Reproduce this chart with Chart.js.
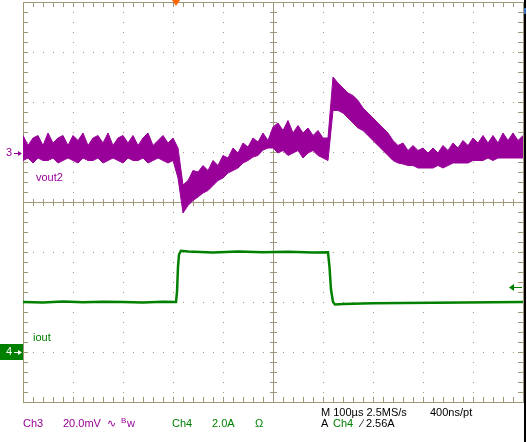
<!DOCTYPE html>
<html><head><meta charset="utf-8">
<script src="https://cdn.jsdelivr.net/npm/chart.js@4.4.1/dist/chart.umd.min.js"></script>
<style>body{margin:0;background:#fff}#w{position:relative;width:527px;height:442px}canvas{display:block}</style>
</head><body><div id="w"><canvas id="c" width="527" height="442"></canvas></div>
<script>
// time in microseconds from left edge of screen (100 us/div)
const timeUs = [];
for (let t = 0; t <= 1000; t += 10) timeUs.push(t);
// vout2 ripple envelope, mV relative to Ch3 ground marker (20 mV/div)
const voutUpper = [7,3,6,7,3,8,4,6,7,3,7,5,8,3,6,7,4,8,3,6,7,4,7,3,6,8,3,5,7,4,6,
  2,-12.8,-11,-7,-7.6,-5,-7,-3,-5,-1,-2,2,0,4,2.4,6,4.4,8,5,10.4,
  12,9,13,8,11,8,10,7,9,6,6,
  30.4,28,26,24,23,21,18,16,14,12,10,8,5,3,4,1,3,1,2,
  0,2,0,3,1,4,2,5,3,6,4,7,4,7,4,8,5,8,5,7];
const voutLower = [-3,-2,-4,-2,-3,-3,-2,-4,-3,-2,-3,-4,-2,-3,-3,-2,-4,-3,-2,-3,-4,-2,-3,-3,-2,-4,-3,-2,-3,-4,-3,
  -10,-24,-21,-19,-17.6,-16,-15,-13,-11,-10,-8,-7,-6,-4,-3,-1.6,-1,1.2,2,2,
  0,1,-1,0,1,-2,0,1,-1,-2,-3,
  17,17,16,14,12,10,9,7,5,3,1,-1,-3,-4,-4.4,-5,-5,-6,-6,
  -6,-6,-5,-6,-5,-4,-4,-4,-4,-3,-3,-3,-2,-3,-2,-2,-2,-2,-2,-2];
// iout, amps relative to Ch4 ground marker (2 A/div)
const ioutTime = [0,40,80,120,160,200,240,280,306,308,310,312,316,330,380,430,480,530,580,610,613,616,620,624,640,700,760,820,880,940,1000];
const ioutAmps = [2.0,1.98,2.02,1.99,2.01,2.0,1.98,2.01,2.0,2.4,3.4,3.9,4.05,4.02,3.98,4.02,3.99,4.01,3.98,3.99,3.4,2.5,2.0,1.9,1.92,1.95,1.96,1.97,1.98,1.99,2.0];

const PURPLE = '#990099', GREEN = '#008000', GRID = '#a0967a';
const up = timeUs.map((t,i)=>({x:t,y:voutUpper[i]}));
const lo = timeUs.map((t,i)=>({x:t,y:voutLower[i]}));
const io = ioutTime.map((t,i)=>({x:t,y:ioutAmps[i]}));

const scopeGrid = {
  id:'scopeGrid',
  beforeDatasetsDraw(ch){
    const {ctx, chartArea:a} = ch;
    const L=a.left,R=a.right,T=a.top,B=a.bottom,dx=(R-L)/10,dy=(B-T)/8;
    const cx=L+5*dx, cy=T+4*dy;
    ctx.save(); ctx.fillStyle=GRID; ctx.strokeStyle=GRID; ctx.lineWidth=1;
    for(let i=1;i<10;i++){ if(i===5) continue; const x=Math.round(L+i*dx);
      for(let y=T;y<=B;y+=dy/5) ctx.fillRect(x,Math.round(y),1,1); }
    for(let j=1;j<8;j++){ if(j===4) continue; const y=Math.round(T+j*dy);
      for(let x=L;x<=R;x+=dx/5) ctx.fillRect(Math.round(x),y,1,1); }
    ctx.beginPath();
    ctx.moveTo(cx+0.5,T); ctx.lineTo(cx+0.5,B);
    ctx.moveTo(L,cy+0.5); ctx.lineTo(R,cy+0.5);
    for(let x=L;x<=R+0.1;x+=dx/5){ const xx=Math.round(x)+0.5;
      ctx.moveTo(xx,cy-3); ctx.lineTo(xx,cy+4);
      ctx.moveTo(xx,T); ctx.lineTo(xx,T+5); ctx.moveTo(xx,B); ctx.lineTo(xx,B-5); }
    for(let y=T;y<=B+0.1;y+=dy/5){ const yy=Math.round(y)+0.5;
      ctx.moveTo(cx-3,yy); ctx.lineTo(cx+4,yy);
      ctx.moveTo(L,yy); ctx.lineTo(L+5,yy); ctx.moveTo(R,yy); ctx.lineTo(R-5,yy); }
    ctx.stroke();
    ctx.strokeRect(L+0.5,T+0.5,R-L,B-T);
    ctx.restore();
  },
  afterDraw(ch){
    const {ctx, chartArea:a} = ch;
    ctx.save();
    ctx.font='11px "Liberation Sans", Arial, sans-serif'; ctx.textBaseline='middle';
    const y3=ch.scales.y3.getPixelForValue(0), y4=ch.scales.y4.getPixelForValue(0);
    ctx.fillStyle=PURPLE; ctx.fillText('3',6,y3); ctx.fillRect(14,y3,7,1);
    ctx.beginPath(); ctx.moveTo(22,y3+0.5); ctx.lineTo(18,y3-2); ctx.lineTo(18,y3+3); ctx.fill();
    ctx.fillText('vout2',36,y3+25);
    ctx.fillStyle=GREEN; ctx.fillRect(0,y4-8,23,16);
    ctx.fillText('iout',33,y4-14);
    ctx.fillStyle='#fff'; ctx.fillText('4',6,y4); ctx.fillRect(14,y4,7,1);
    ctx.beginPath(); ctx.moveTo(22,y4+0.5); ctx.lineTo(18,y4-2); ctx.lineTo(18,y4+3); ctx.fill();
    // trigger level arrow
    const yt=ch.scales.y4.getPixelForValue(2.6);
    ctx.fillStyle=GREEN; ctx.fillRect(512,yt,10,1);
    ctx.beginPath(); ctx.moveTo(509,yt+0.5); ctx.lineTo(514,yt-3); ctx.lineTo(514,yt+4); ctx.fill();
    // trigger position marker
    const xt=ch.scales.x.getPixelForValue(306);
    ctx.fillStyle='#ff6600'; ctx.beginPath(); ctx.moveTo(xt-4,0); ctx.lineTo(xt+4,0); ctx.lineTo(xt,6); ctx.fill();
    // right edge
    ctx.fillStyle='#000'; ctx.fillRect(524,0,2,442); ctx.fillStyle='#3a6fc0'; ctx.fillRect(524,8,2,6);
    // readouts
    ctx.fillStyle='#000';
    ctx.fillText('M 100\u00b5s 2.5MS/s',321,413); ctx.fillText('400ns/pt',430,413);
    ctx.fillText('A',321,424);
    ctx.fillText('\u2215 2.56A',361,424);
    ctx.fillStyle=PURPLE; ctx.fillText('Ch3',23,424); ctx.fillText('20.0mV',63,424); ctx.fillText('\u223f',107,424);
    ctx.font='8px "Liberation Sans", Arial, sans-serif'; ctx.fillText('B',121,421);
    ctx.font='11px "Liberation Sans", Arial, sans-serif'; ctx.fillText('w',127,424);
    ctx.fillStyle=GREEN; ctx.fillText('Ch4',172,424); ctx.fillText('2.0A',212,424); ctx.fillText('\u03a9',255,424); ctx.fillText('Ch4',333,424);
    ctx.restore();
  }
};

new Chart(document.getElementById('c'), {
  type:'line',
  data:{datasets:[
    {data:up,yAxisID:'y3',borderColor:PURPLE,borderWidth:1,pointRadius:0,tension:0,fill:false},
    {data:lo,yAxisID:'y3',borderColor:PURPLE,borderWidth:1,pointRadius:0,tension:0,fill:'-1',backgroundColor:PURPLE},
    {data:io,yAxisID:'y4',borderColor:GREEN,borderWidth:2.5,pointRadius:0,tension:0,fill:false}
  ]},
  options:{
    responsive:false,animation:false,
    layout:{padding:{left:23,right:4,top:2,bottom:40}},
    plugins:{legend:{display:false},tooltip:{enabled:false}},
    scales:{
      x:{type:'linear',min:0,max:1000,display:false},
      y3:{type:'linear',min:-99.6,max:60.4,display:false},
      y4:{type:'linear',min:-2,max:14,display:false}
    }
  },
  plugins:[scopeGrid]
});
</script></body></html>
